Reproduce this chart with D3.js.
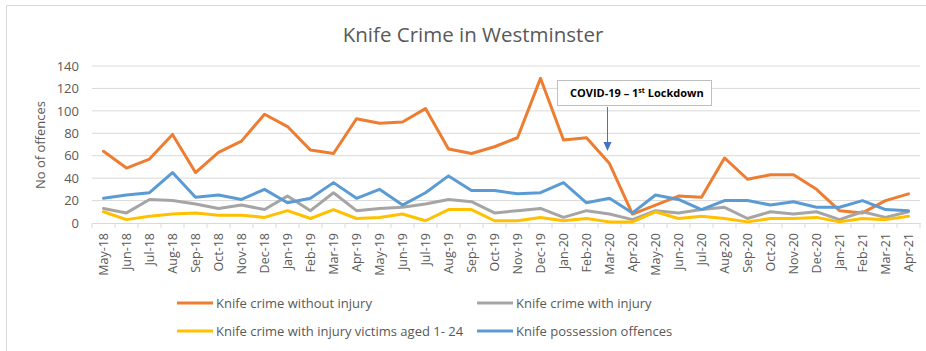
<!DOCTYPE html>
<html>
<head>
<meta charset="utf-8">
<script src="https://cdn.jsdelivr.net/npm/d3@7"></script>
<style>
  body { margin: 0; background: #fff; }
  text { font-family: "Open Sans", "Noto Sans", sans-serif; }
</style>
</head>
<body>
<div id="chart"></div>
<script>
// Months on the category axis
const months = ["May-18","Jun-18","Jul-18","Aug-18","Sep-18","Oct-18","Nov-18","Dec-18",
  "Jan-19","Feb-19","Mar-19","Apr-19","May-19","Jun-19","Jul-19","Aug-19","Sep-19","Oct-19","Nov-19","Dec-19",
  "Jan-20","Feb-20","Mar-20","Apr-20","May-20","Jun-20","Jul-20","Aug-20","Sep-20","Oct-20","Nov-20","Dec-20",
  "Jan-21","Feb-21","Mar-21","Apr-21"];

const withoutInjury = [64,49,57,79,45,63,73,97,86,65,62,93,89,90,102,66,62,68,76,129,
  74,76,53,8,16,24,23,58,39,43,43,30,11,9,20,26];
const withInjury = [13,9,21,20,17,13,16,12,24,11,27,11,13,14,17,21,19,9,11,13,
  5,11,8,3,11,9,12,14,4,10,8,10,3,10,5,10];
const victims1to24 = [10,3,6,8,9,7,7,5,11,4,12,4,5,8,2,12,12,2,2,5,
  2,4,1,1,10,4,6,4,1,4,4,5,1,4,3,6];
const possession = [22,25,27,45,23,25,21,30,18,22,36,22,30,16,27,42,29,29,26,27,
  36,18,22,9,25,21,12,20,20,16,19,14,14,20,12,11];

const yTicks = [0,20,40,60,80,100,120,140];

const series = [
  { name: "Knife crime without injury", values: withoutInjury, color: "#ED7D31" },
  { name: "Knife crime with injury", values: withInjury, color: "#A5A5A5" },
  { name: "Knife crime with injury victims aged 1- 24", values: victims1to24, color: "#FFC000" },
  { name: "Knife possession offences", values: possession, color: "#5B9BD5" }
];

const width = 926, height = 351;
const plot = { left: 92, right: 920, top: 66, bottom: 223 };

const svg = d3.select("#chart").append("svg")
  .attr("width", width)
  .attr("height", height);

// Outer frame (only top/left visible in the crop)
svg.append("path")
  .attr("d", "M6.5,351 L6.5,5.5 L926,5.5")
  .attr("fill", "none")
  .attr("stroke", "#d9d9d9");

// Title
svg.append("text")
  .attr("x", 473).attr("y", 42)
  .attr("text-anchor", "middle")
  .attr("font-size", 20.5)
  .attr("fill", "#595959")
  .text("Knife Crime in Westminster");

const x = d3.scaleBand()
  .domain(months)
  .range([plot.left, plot.right]);

const y = d3.scaleLinear()
  .domain([0, 140])
  .range([plot.bottom, plot.top]);

// Gridlines
svg.append("g")
  .selectAll("line")
  .data(yTicks.filter(d => d > 0))
  .join("line")
  .attr("x1", plot.left).attr("x2", plot.right)
  .attr("y1", d => y(d)).attr("y2", d => y(d))
  .attr("stroke", "#d9d9d9")
  .attr("stroke-width", 1);

// Y axis labels
const yAxis = svg.append("g")
  .attr("transform", `translate(${plot.left},0)`)
  .call(d3.axisLeft(y).tickValues(yTicks).tickSize(0).tickPadding(13));
yAxis.select(".domain").remove();
yAxis.selectAll("text")
  .attr("font-size", 13)
  .attr("fill", "#595959")
  .style("font-family", "'Open Sans', sans-serif");

// Y axis title
svg.append("text")
  .attr("transform", "translate(45,145) rotate(-90)")
  .attr("text-anchor", "middle")
  .attr("font-size", 13)
  .attr("fill", "#595959")
  .text("No of offences");

// X axis
const xAxis = svg.append("g")
  .attr("transform", `translate(0,${plot.bottom})`)
  .call(d3.axisBottom(x).tickSize(0).tickPadding(0));
xAxis.select(".domain")
  .attr("stroke", "#d9d9d9");
xAxis.selectAll("text")
  .attr("font-size", 12.5)
  .attr("fill", "#595959")
  .style("font-family", "'Open Sans', sans-serif")
  .attr("transform", "rotate(-90)")
  .attr("text-anchor", "end")
  .attr("x", -10)
  .attr("y", 0)
  .attr("dy", "0.35em");

// Tick marks between categories
svg.append("g")
  .selectAll("line")
  .data(d3.range(months.length + 1))
  .join("line")
  .attr("x1", i => plot.left + i * x.step())
  .attr("x2", i => plot.left + i * x.step())
  .attr("y1", plot.bottom)
  .attr("y2", plot.bottom + 5)
  .attr("stroke", "#d9d9d9");

// Lines
const line = d3.line()
  .x((d, i) => x(months[i]) + x.bandwidth() / 2)
  .y(d => y(d));

svg.append("g")
  .selectAll("path")
  .data(series)
  .join("path")
  .attr("d", d => line(d.values))
  .attr("fill", "none")
  .attr("stroke", d => d.color)
  .attr("stroke-width", 3)
  .attr("stroke-linejoin", "round")
  .attr("stroke-linecap", "round");

// Lockdown annotation
const annX = x("Mar-20") + x.bandwidth() / 2 - 2;
const ann = svg.append("g");
ann.append("rect")
  .attr("x", 557.5).attr("y", 80.5)
  .attr("width", 154).attr("height", 25)
  .attr("fill", "#fff")
  .attr("stroke", "#bfbfbf");
const annText = ann.append("text")
  .attr("x", 570).attr("y", 97)
  .attr("font-size", 11)
  .attr("font-weight", "bold")
  .attr("fill", "#000");
annText.append("tspan").text("COVID-19 – 1");
annText.append("tspan").attr("font-size", 7).attr("dy", -4).text("st");
annText.append("tspan").attr("dy", 4).text(" Lockdown");

ann.append("line")
  .attr("x1", annX).attr("x2", annX)
  .attr("y1", 107).attr("y2", 143)
  .attr("stroke", "#4472C4")
  .attr("stroke-width", 1);
ann.append("path")
  .attr("d", `M${annX - 4},142 L${annX + 4},142 L${annX},151 Z`)
  .attr("fill", "#4472C4");

// Legend
const legendPos = [
  { x: 177, y: 303 }, { x: 477, y: 303 },
  { x: 177, y: 331 }, { x: 477, y: 331 }
];
const legend = svg.append("g")
  .selectAll("g")
  .data(series)
  .join("g")
  .attr("transform", (d, i) => `translate(${legendPos[i].x},${legendPos[i].y})`);
legend.append("line")
  .attr("x1", 0).attr("x2", 36)
  .attr("stroke", d => d.color)
  .attr("stroke-width", 3);
legend.append("text")
  .attr("x", 39)
  .attr("dy", "0.35em")
  .attr("font-size", 13)
  .attr("fill", "#595959")
  .text(d => d.name);
</script>
</body>
</html>
